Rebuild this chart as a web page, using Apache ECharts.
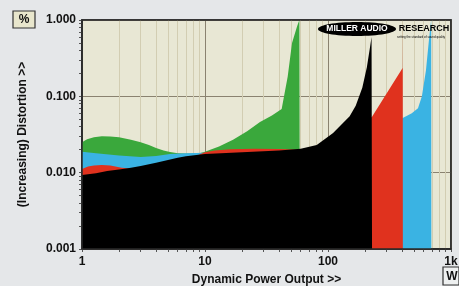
<!DOCTYPE html>
<html>
<head>
<meta charset="UTF-8">
<title>distortion vs power</title>
<script src="https://cdn.jsdelivr.net/npm/echarts@6/dist/echarts.min.js"></script>
<style>
  html, body { margin: 0; padding: 0; background: #e5e7e9; }
  #main { width: 459px; height: 286px; }
</style>
</head>
<body>
<div id="main"></div>
<script>
// power (W) / distortion (%)
var greenX = [1, 1.1, 1.25, 1.45, 1.7, 2, 2.5, 3, 3.5, 4, 4.6, 5.2, 6, 7, 8, 9, 10, 10.9, 13, 16.9, 22, 28, 35, 42, 47, 51, 56, 58.5, 59];
var greenY = [0.025, 0.0275, 0.0292, 0.030, 0.0298, 0.029, 0.027, 0.025, 0.023, 0.021, 0.0195, 0.0186, 0.018, 0.0178, 0.0178, 0.018, 0.0188, 0.0198, 0.022, 0.027, 0.035, 0.046, 0.056, 0.068, 0.18, 0.5, 0.82, 1.0, 0.001];

var blueX = [1, 1.3, 2, 3, 4, 5.2, 7, 10, 20, 40, 60, 100, 200, 300, 405, 480, 539, 580, 626, 662, 690, 692];
var blueY = [0.0188, 0.018, 0.0168, 0.016, 0.0165, 0.0175, 0.018, 0.0182, 0.0185, 0.019, 0.019, 0.02, 0.03, 0.045, 0.052, 0.06, 0.07, 0.1, 0.22, 0.55, 1.0, 0.001];

var redX = [1, 1.12, 1.25, 1.45, 1.7, 2.1, 3, 5, 8, 10, 12, 16, 25, 40, 60, 100, 150, 200, 228, 404, 405, 406];
var redY = [0.0112, 0.012, 0.0124, 0.0126, 0.0124, 0.0116, 0.011, 0.013, 0.016, 0.0185, 0.0195, 0.0203, 0.0205, 0.0204, 0.02, 0.022, 0.03, 0.045, 0.054, 0.235, 1.0, 0.001];

var blackX = [1, 1.3, 1.6, 2, 2.5, 3, 4, 5, 6, 7, 8.5, 10, 20, 40, 60, 81, 110, 150, 168, 190, 207, 220, 226, 228];
var blackY = [0.0093, 0.0098, 0.0105, 0.011, 0.0116, 0.0122, 0.0135, 0.0147, 0.0157, 0.0164, 0.017, 0.0175, 0.0185, 0.0195, 0.0205, 0.023, 0.033, 0.055, 0.075, 0.13, 0.24, 0.45, 0.6, 0.001];

var xLabels = [1, 10, 100, 1000];
var yLabels = [0.001, 0.01, 0.1, 1];

// 1..9 in each decade for ticks / grid
function decadeTicks(lo, hi) {
  var out = [];
  for (var d = lo; d < hi; d *= 10) {
    for (var k = 1; k < 10; k++) out.push(+(k * d).toPrecision(3));
  }
  out.push(hi);
  return out;
}
var xTicks = decadeTicks(1, 1000);
var yTicks = decadeTicks(0.001, 1);

function pairs(xs, ys) {
  return xs.map(function (x, i) { return [x, ys[i]]; });
}

var font = 'Liberation Sans, Arial, sans-serif';

function areaSeries(name, color, xs, ys) {
  return {
    name: name,
    type: 'line',
    data: pairs(xs, ys),
    showSymbol: false,
    smooth: false,
    lineStyle: { width: 0 },
    areaStyle: { color: color, opacity: 1, origin: 'start' },
    silent: true
  };
}

var myChart = echarts.init(document.getElementById('main'));

var minor = '#d2cdb2', none = 'rgba(0,0,0,0)';

var option = {
  animation: false,
  backgroundColor: '#e5e7e9',
  grid: {
    left: 82, top: 20, right: 8, bottom: 37,
    outerBoundsMode: 'none',
    containLabel: false,
    show: true,
    backgroundColor: '#e8e7d4',
    borderColor: '#2a2a2a',
    borderWidth: 1.5
  },
  xAxis: {
    type: 'log',
    logBase: 10,
    min: 1,
    max: 1000,
    name: 'Dynamic Power Output >>',
    nameLocation: 'middle',
    nameGap: 25,
    nameTextStyle: { fontFamily: font, fontWeight: 'bold', fontSize: 12, color: '#111' },
    axisLine: { show: true, lineStyle: { color: '#2a2a2a', width: 1.5 } },
    axisTick: { show: true, customValues: xTicks, length: 3, lineStyle: { color: '#555' } },
    axisLabel: {
      customValues: xLabels,
      margin: 7,
      fontFamily: font, fontWeight: 'bold', fontSize: 12, color: '#111',
      formatter: function (v) { return v >= 1000 ? '1k' : String(Math.round(v)); }
    },
    splitLine: {
      show: true,
      lineStyle: {
        width: 1,
        color: ['#8a8270', minor, minor, minor, minor, minor, minor, minor, minor]
      }
    }
  },
  yAxis: {
    type: 'log',
    logBase: 10,
    min: 0.001,
    max: 1,
    name: '(Increasing) Distortion >>',
    nameLocation: 'middle',
    nameGap: 53,
    nameRotate: 90,
    nameTextStyle: { fontFamily: font, fontWeight: 'bold', fontSize: 12, color: '#111' },
    axisLine: { show: true, lineStyle: { color: '#2a2a2a', width: 1.5 } },
    axisTick: { show: true, customValues: yTicks, length: 3, lineStyle: { color: '#555' } },
    axisLabel: {
      customValues: yLabels,
      margin: 6,
      fontFamily: font, fontWeight: 'bold', fontSize: 12, color: '#111',
      formatter: function (v) { return v.toFixed(3); }
    },
    splitLine: {
      show: true,
      lineStyle: {
        width: 1,
        color: ['#8a8270', none, none, none, none, none, none, none, none]
      }
    }
  },
  series: [
    areaSeries('green', '#3aa83c', greenX, greenY),
    areaSeries('blue', '#3ab3e3', blueX, blueY),
    areaSeries('red', '#e0321e', redX, redY),
    areaSeries('black', '#000000', blackX, blackY)
  ],
  graphic: [
    // plot frame on top of the areas
    { type: 'rect', z: 100, shape: { x: 82, y: 20, width: 369, height: 229 },
      style: { fill: 'none', stroke: '#2a2a2a', lineWidth: 1.5 } },
    // % box
    { type: 'rect', z: 100, shape: { x: 13, y: 11, width: 22, height: 17 },
      style: { fill: '#e8e6cc', stroke: '#333', lineWidth: 1.2 } },
    { type: 'text', z: 101, x: 24, y: 20,
      style: { text: '%', fill: '#111', font: 'bold 12px ' + font, align: 'center', verticalAlign: 'middle' } },
    // W box
    { type: 'rect', z: 100, shape: { x: 443, y: 267, width: 16, height: 18 },
      style: { fill: '#eef0f0', stroke: '#333', lineWidth: 1.2 } },
    { type: 'text', z: 101, x: 452, y: 277,
      style: { text: 'W', fill: '#111', font: 'bold 12px ' + font, align: 'center', verticalAlign: 'middle' } },
    // logo
    { type: 'ellipse', z: 100, shape: { cx: 357, cy: 29, rx: 39, ry: 7 },
      style: { fill: '#000' } },
    { type: 'text', z: 101, x: 357, y: 29,
      style: { text: 'MILLER AUDIO', fill: '#fff', font: 'bold 8.5px ' + font, align: 'center', verticalAlign: 'middle' } },
    { type: 'text', z: 101, x: 424, y: 29,
      style: { text: 'RESEARCH', fill: '#000', font: 'bold 9px ' + font, align: 'center', verticalAlign: 'middle' } },
    { type: 'text', z: 101, x: 421, y: 37,
      style: { text: 'setting the standard of sound quality', fill: '#000', font: '3px ' + font, align: 'center', verticalAlign: 'middle' } }
  ]
};

myChart.setOption(option);
</script>
</body>
</html>
